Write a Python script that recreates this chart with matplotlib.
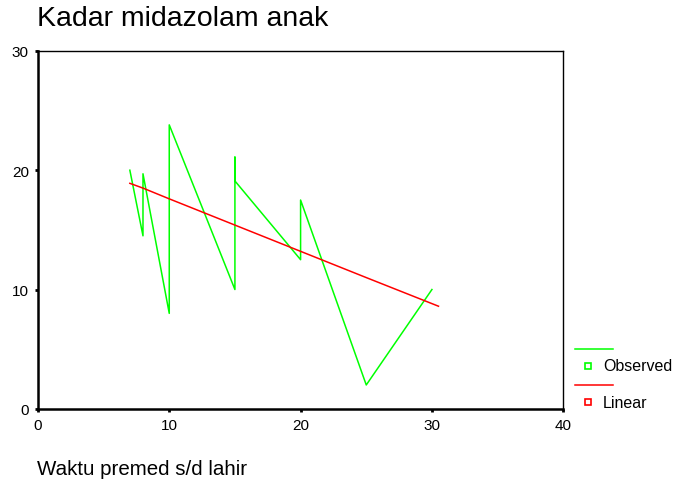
import numpy as np
import matplotlib.pyplot as plt
from matplotlib.lines import Line2D

plt.rcParams['font.family'] = ['Liberation Sans', 'DejaVu Sans']

# observed series (in drawing order)
obs_x = [7, 8, 8, 10, 10, 15, 15, 15, 20, 20, 25, 30]
obs_y = [20.0, 14.5, 19.7, 8.0, 23.8, 10.0, 21.1, 19.1, 12.5, 17.5, 2.0, 10.0]

# linear fit
lin_x = [7, 8, 10, 15, 20, 25, 30.5]
lin_y = [18.9, 18.5, 17.6, 15.4, 13.2, 11.0, 8.6]

title = 'Kadar midazolam anak'
xlabel = 'Waktu premed s/d lahir'
xticks = [0, 10, 20, 30, 40]
yticks = [0, 10, 20, 30]

fig = plt.figure(figsize=(6.77, 4.85), dpi=100)
ax = fig.add_axes([0.056, 0.155, 0.776, 0.738])

ax.plot(obs_x, obs_y, color='#00ff00', lw=1.1)
ax.plot(lin_x, lin_y, color='#ff0000', lw=1.1)

ax.set_xlim(0, 40)
ax.set_ylim(0, 30)
ax.set_xticks(xticks)
ax.set_yticks(yticks)
ax.tick_params(direction='out', length=2.5, width=2, labelsize=11, pad=4, colors='black')
for s in ['left', 'bottom']:
    ax.spines[s].set_linewidth(1.8)
for s in ['top', 'right']:
    ax.spines[s].set_linewidth(1.0)

fig.text(0.054, 1 - 19 / 485, title, fontsize=20.5, va='center', ha='left')
fig.text(0.054, 1 - 470 / 485, xlabel, fontsize=14.8, va='center', ha='left')

# legend outside the axes on the right
def fx(px):
    return px / 677.0

def fy(py):
    return 1 - py / 485.0

fig.add_artist(Line2D([fx(575), fx(613)], [fy(350), fy(350)], color='#00ff00', lw=1.1))
fig.add_artist(Line2D([fx(588)], [fy(367)], marker='s', ms=4, mfc='white', mec='#00ff00', mew=1.2, ls='none'))
fig.text(fx(603), fy(367), 'Observed', fontsize=11.5, va='center', ha='left')
fig.add_artist(Line2D([fx(575), fx(613)], [fy(386), fy(386)], color='#ff0000', lw=1.1))
fig.add_artist(Line2D([fx(588)], [fy(403)], marker='s', ms=4, mfc='white', mec='#ff0000', mew=1.2, ls='none'))
fig.text(fx(603), fy(403), 'Linear', fontsize=11.5, va='center', ha='left')

fig.savefig('out.png', dpi=100)
